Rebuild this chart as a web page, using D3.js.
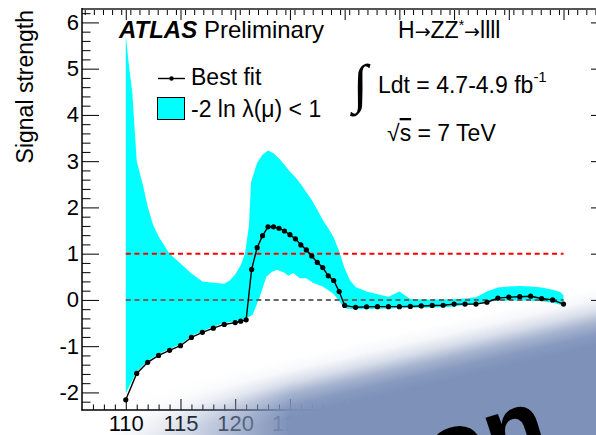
<!DOCTYPE html>
<html>
<head>
<meta charset="utf-8">
<script src="https://cdn.jsdelivr.net/npm/d3@7"></script>
<style>
body { margin: 0; background: #fff; }
svg text { font-family: "Liberation Sans", Arial, Helvetica, sans-serif; fill: #000; }
</style>
</head>
<body>
<script>
var W = 596, H = 435;

// best fit signal strength vs mass
var fitMass = [110, 111, 112, 113, 114, 115, 116, 117, 118, 119, 120,
    120.5, 121, 121.5, 122, 122.5, 123, 123.5, 124, 124.5, 125, 125.5, 126, 126.5, 127, 127.5, 128, 128.5, 129, 129.5, 130,
    131, 132, 133, 134, 135, 136, 137, 138, 139, 140, 141, 142, 143, 144, 145, 146, 147, 148, 149, 150];
var fitMu = [-2.16, -1.59, -1.35, -1.20, -1.09, -0.99, -0.81, -0.70, -0.61, -0.53, -0.49,
    -0.46, -0.43, 0.66, 1.13, 1.39, 1.58, 1.58, 1.55, 1.49, 1.41, 1.32, 1.19, 1.08, 0.95, 0.81, 0.70, 0.52, 0.42, 0.18, -0.12,
    -0.16, -0.15, -0.145, -0.145, -0.145, -0.14, -0.13, -0.12, -0.115, -0.09, -0.09, -0.09, -0.05, 0.04, 0.06, 0.07, 0.08, 0.03, 0.0, -0.09];

// -2 ln lambda(mu) < 1 band, upper and lower edge
var bandHiMass = [110, 110.3, 110.6, 111, 111.6, 112, 112.5, 113, 114, 115, 116, 117, 118, 119, 119.5, 120, 120.5, 120.9,
    121.25, 121.45, 122, 122.5, 123, 123.5, 124, 124.5, 125, 125.5, 126, 126.5, 127, 127.5, 128, 128.5, 129, 129.5, 130,
    130.5, 131, 132, 133, 134, 134.5, 135, 135.5, 136, 137, 138, 139, 140, 141, 142, 143, 144, 145, 146, 147, 148, 149, 149.7, 150];
var bandHi = [5.72, 5.04, 4.47, 3.0, 2.45, 2.02, 1.62, 1.37, 1.0, 0.79, 0.57, 0.40, 0.37, 0.35, 0.42, 0.55, 0.75, 1.01,
    1.6, 2.55, 2.96, 3.14, 3.23, 3.17, 3.06, 2.92, 2.77, 2.65, 2.5, 2.33, 2.16, 1.95, 1.73, 1.55, 1.35, 1.05, 0.68,
    0.42, 0.28, 0.18, 0.12, 0.07, 0.12, 0.18, 0.1, 0.02, 0.01, 0.01, 0.01, 0.02, 0.03, 0.06, 0.18, 0.27, 0.29, 0.3, 0.29, 0.27, 0.22, 0.17, 0.1];
var bandLoMass = [110, 111, 112, 113, 114, 115, 116, 117, 118, 119, 120, 120.5, 121, 121.6, 122.25, 122.85, 123.3, 123.8,
    124.5, 124.85, 125.3, 125.9, 126.5, 127.1, 128, 128.95, 129.55, 129.85, 130.2, 131, 133, 135, 137, 139, 140, 141, 142,
    143, 144, 146, 148, 149, 150];
var bandLo = [-2.02, -1.55, -1.32, -1.17, -1.06, -0.96, -0.78, -0.67, -0.58, -0.5, -0.46, -0.43, -0.4, -0.32, 0.07, 0.5, 0.6, 0.65,
    0.59, 0.52, 0.58, 0.47, 0.47, 0.37, 0.29, 0.14, -0.04, -0.14, -0.19, -0.2, -0.19, -0.18, -0.17, -0.16, -0.14, -0.11, -0.08,
    -0.04, -0.02, -0.01, -0.03, -0.06, -0.12];

var refLevels = [1, 0];
var refColors = ["#ff0000", "#666666"];
var yTicks = [-2, -1, 0, 1, 2, 3, 4, 5, 6];
var xTicks = [110, 115, 120, 125, 130, 135, 140, 145, 150];

var svg = d3.select("body").append("svg")
    .attr("width", W).attr("height", H);

var x = d3.scaleLinear().domain([106, 153.15]).range([82, 598]);
var y = d3.scaleLinear().domain([-2.38, 6.29]).range([410, 9]);

// band
var bandPts = bandHiMass.map(function(m, i) { return [m, bandHi[i]]; })
    .concat(bandLoMass.map(function(m, i) { return [m, bandLo[i]]; }).reverse());
var line = d3.line().x(function(d) { return x(d[0]); }).y(function(d) { return y(d[1]); });
svg.append("path")
    .attr("d", line(bandPts) + "Z")
    .attr("fill", "#00ffff")
    .attr("stroke", "none");

// reference lines
svg.selectAll(".ref")
    .data(refLevels)
    .enter().append("line")
    .attr("class", "ref")
    .attr("x1", x(fitMass[0])).attr("x2", x(fitMass[fitMass.length - 1]))
    .attr("y1", function(d) { return y(d); }).attr("y2", function(d) { return y(d); })
    .attr("stroke", function(d, i) { return refColors[i]; })
    .attr("stroke-width", 2)
    .attr("stroke-dasharray", "5,3.7");

// best fit
var fit = fitMass.map(function(m, i) { return [m, fitMu[i]]; });
svg.append("path")
    .attr("d", line(fit))
    .attr("fill", "none")
    .attr("stroke", "#000")
    .attr("stroke-width", 1.4);
svg.selectAll(".pt")
    .data(fit)
    .enter().append("circle")
    .attr("class", "pt")
    .attr("cx", function(d) { return x(d[0]); })
    .attr("cy", function(d) { return y(d[1]); })
    .attr("r", 2.6)
    .attr("fill", "#000");

// axes
var minorY = d3.range(-2.2, 6.21, 0.2).filter(function(v) { return Math.abs(v - Math.round(v)) > 0.01; });
var minorX = d3.range(107, 153, 1).filter(function(v) { return v % 5 !== 0; });
var minorTop = d3.range(0, 57).map(function(k) { return 106.25 + k * 5 / 6; })
    .filter(function(v) { return v < 153 && Math.abs(v / 5 - Math.round(v / 5)) > 0.01; });

function styleAxis(g) {
    g.select(".domain").remove();
    g.selectAll(".tick line").attr("stroke", "#000").attr("stroke-width", 1);
    g.selectAll(".tick text").style("font-size", "22px");
}

svg.append("g").attr("transform", "translate(82,0)")
    .call(d3.axisLeft(y).tickValues(yTicks).tickSize(-17).tickPadding(3).tickFormat(function(d) { return String(d); }))
    .call(styleAxis);
svg.append("g").attr("transform", "translate(82,0)")
    .call(d3.axisLeft(y).tickValues(minorY).tickSize(-8.5).tickFormat(""))
    .call(styleAxis);
svg.append("g").attr("transform", "translate(598,0)")
    .call(d3.axisRight(y).tickValues(yTicks).tickSize(-7).tickFormat(""))
    .call(styleAxis);

svg.append("g").attr("transform", "translate(0,410)")
    .call(d3.axisBottom(x).tickValues(xTicks).tickSize(-11).tickPadding(5).tickFormat(function(d) { return String(d); }))
    .call(styleAxis);
svg.append("g").attr("transform", "translate(0,410)")
    .call(d3.axisBottom(x).tickValues(minorX).tickSize(-5.5).tickFormat(""))
    .call(styleAxis);
svg.append("g").attr("transform", "translate(0,9)")
    .call(d3.axisTop(x).tickValues(xTicks).tickSize(-11).tickFormat(""))
    .call(styleAxis);
svg.append("g").attr("transform", "translate(0,9)")
    .call(d3.axisTop(x).tickValues(minorTop).tickSize(-6).tickFormat(""))
    .call(styleAxis);

// frame
svg.append("line").attr("x1", 82).attr("x2", 598).attr("y1", 9).attr("y2", 9)
    .attr("stroke", "#555").attr("stroke-width", 2);
svg.append("line").attr("x1", 82).attr("x2", 82).attr("y1", 8).attr("y2", 410.5)
    .attr("stroke", "#000").attr("stroke-width", 1.5);
svg.append("line").attr("x1", 81.5).attr("x2", 598).attr("y1", 410).attr("y2", 410)
    .attr("stroke", "#000").attr("stroke-width", 1.5);

// axis title
svg.append("text")
    .attr("transform", "translate(33,10) rotate(-90)")
    .attr("text-anchor", "end")
    .style("font-size", "23px")
    .text("Signal strength");

// labels
var atlas = svg.append("text").attr("x", 119).attr("y", 38).style("font-size", "24px");
atlas.append("tspan").style("font-weight", "bold").style("font-style", "italic").text("ATLAS");
atlas.append("tspan").text(" Preliminary");

var chan = svg.append("text").attr("x", 398).attr("y", 38).style("font-size", "23px");
chan.append("tspan").text("H");
chan.append("tspan").style("font-family", "'DejaVu Sans'").style("font-size", "19px").text("\u2192");
chan.append("tspan").text("ZZ");
chan.append("tspan").attr("dy", -8).style("font-size", "14px").text("*");
chan.append("tspan").attr("dy", 8).style("font-family", "'DejaVu Sans'").style("font-size", "19px").text("\u2192");
chan.append("tspan").text("llll");

svg.append("text").attr("x", 353).attr("y", 102)
    .style("font-family", "'Liberation Serif'").style("font-size", "54px").text("\u222B");
var lumi = svg.append("text").attr("x", 378).attr("y", 93).style("font-size", "23px");
lumi.append("tspan").text("Ldt = 4.7-4.9 fb");
lumi.append("tspan").attr("dy", -11).style("font-size", "15px").text("-1");

var rs = svg.append("text").attr("x", 387).attr("y", 141).style("font-size", "23px");
rs.append("tspan").text("\u221A");
rs.append("tspan").style("text-decoration", "overline").text("s");
rs.append("tspan").text(" = 7 TeV");

// legend
var lg = svg.append("g");
lg.append("line").attr("x1", 158).attr("x2", 185).attr("y1", 78.5).attr("y2", 78.5)
    .attr("stroke", "#000").attr("stroke-width", 1.4);
lg.append("circle").attr("cx", 171.5).attr("cy", 78.5).attr("r", 2.2).attr("fill", "#000");
lg.append("text").attr("x", 191).attr("y", 85).style("font-size", "23px").text("Best fit");
lg.append("rect").attr("x", 157.5).attr("y", 97.5).attr("width", 27).attr("height", 22)
    .attr("fill", "#00ffff").attr("stroke", "#000").attr("stroke-width", 1);
lg.append("text").attr("x", 191).attr("y", 117).style("font-size", "23px").text("-2 ln \u03BB(\u03BC) < 1");

// soft-edged overlay in the lower right corner
var defs = svg.append("defs");
var grad = defs.append("linearGradient").attr("id", "fade")
    .attr("gradientUnits", "userSpaceOnUse")
    .attr("x1", 293).attr("y1", 358).attr("x2", 306).attr("y2", 414);
[[0, 0], [0.2, 0.07], [0.4, 0.3], [0.6, 0.68], [0.8, 0.92], [1, 1]].forEach(function(s) {
    grad.append("stop").attr("offset", s[0]).attr("stop-color", "#7d91b9").attr("stop-opacity", s[1]);
});
var hgrad = defs.append("linearGradient").attr("id", "hfade")
    .attr("gradientUnits", "userSpaceOnUse")
    .attr("x1", 110).attr("y1", 0).attr("x2", 290).attr("y2", 0);
[[0, "#000"], [0.4, "#555"], [1, "#fff"]].forEach(function(s) {
    hgrad.append("stop").attr("offset", s[0]).attr("stop-color", s[1]);
});
defs.append("mask").attr("id", "leftfade")
    .attr("maskUnits", "userSpaceOnUse")
    .attr("x", 0).attr("y", 0).attr("width", W).attr("height", H)
    .append("rect").attr("x", 0).attr("y", 0).attr("width", W).attr("height", H)
    .attr("fill", "url(#hfade)");
svg.append("rect")
    .attr("x", 0).attr("y", 0).attr("width", W).attr("height", H)
    .attr("fill", "url(#fade)")
    .attr("mask", "url(#leftfade)");
svg.append("text")
    .attr("transform", "translate(436,488) rotate(-17)")
    .style("font-size", "100px").style("font-weight", "bold")
    .text("on");
</script>
</body>
</html>
